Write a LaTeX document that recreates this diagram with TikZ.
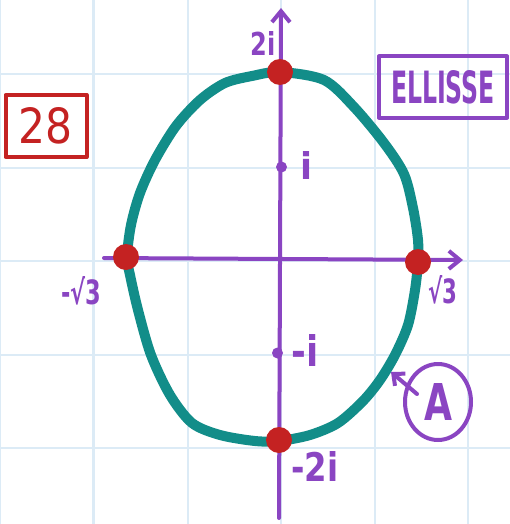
\documentclass[tikz,border=0pt]{standalone}
\usepackage{fontspec}
\setmainfont{DejaVu Sans}
\usepackage{graphicx}
\usetikzlibrary{arrows.meta,shapes.geometric}
\definecolor{gridc}{HTML}{DCEBF6}
\definecolor{axc}{HTML}{8A45C2}
\definecolor{tealc}{HTML}{128D89}
\definecolor{redc}{HTML}{C42222}
\tikzset{
  gridline/.style={draw=gridc,line width=2.5pt},
  axisline/.style={draw=axc,line width=4pt,line cap=round,line join=round,
    -{Straight Barb[length=11pt,width=18pt,line width=4pt]}},
  curve/.style={draw=tealc,line width=10pt,line join=round},
  bigdot/.style={circle,fill=redc,minimum size=26pt,inner sep=0pt},
  smalldot/.style={circle,fill=axc,minimum size=11pt,inner sep=0pt},
  lbl/.style={text=axc,inner sep=0pt,font=\bfseries},
  framebox/.style={draw,line width=4pt,line join=round,inner sep=0pt},
}
\begin{document}
\begin{tikzpicture}[x=1pt,y=-1pt]
\useasboundingbox[fill=white] (0,0) rectangle (510,524);
% grid
\foreach \x in {0,93.5,188,281,375,468}
  \draw[gridline] (\x,0) -- (\x,524);
\foreach \y in {74,168,261,355,448}
  \draw[gridline] (0,\y) -- (510,\y);
% axes
\coordinate (ybot) at (279,518);
\coordinate (ytop) at (281,8);
\coordinate (xleft) at (104,258);
\coordinate (xright) at (463,260);
\draw[axisline] (ybot) -- (ytop);
\draw[axisline] (xleft) -- (xright);
% ellipse
\draw[curve] plot[smooth cycle,tension=0.5] coordinates {
 (280,72) (324,80) (354,107) (384,143) (404,174) (413,208) (418,240)
 (418,262) (415,290) (408,325) (395,355) (380,380) (363,401) (338,423) (310,435)
 (279,441) (255,441) (220,435) (192,423) (170,395) (151,355) (138,310) (130,275)
 (127,257) (131,225) (140,193) (155,160) (176,126) (200,100) (225,83) (252,76)};
% dots
\node[smalldot] (pi) at (281.5,167) {};
\node[smalldot] (mi) at (277.5,353) {};
\node[bigdot] (top) at (280,72) {};
\node[bigdot] (left) at (126,257) {};
\node[bigdot] (right) at (418,262) {};
\node[bigdot] (bot) at (279,440) {};
% labels
\node[lbl] (l2i) at (263,44) {\resizebox{25pt}{24pt}{2i}};
\node[lbl] (li) at (306,165) {\resizebox{12pt}{28pt}{i}};
\node[lbl] (lms3) at (81,291) {\resizebox{40pt}{28pt}{-√3}};
\node[lbl] (ls3) at (443,290) {\resizebox{29pt}{28pt}{√3}};
\node[lbl] (lmi) at (305,350) {\resizebox{27pt}{32pt}{-i}};
\node[lbl] (lm2i) at (315,466) {\resizebox{47pt}{30pt}{-2i}};
% title boxes
\node[framebox,draw=axc,text=axc,minimum width=128pt,minimum height=61pt] (ell) at (443,87)
  {\resizebox{104pt}{33pt}{\bfseries ELLISSE}};
\node[framebox,draw=redc,text=redc,minimum width=81pt,minimum height=62pt] (num) at (46,126)
  {\resizebox{54pt}{36pt}{28}};
% A label
\node[ellipse,draw=axc,line width=4pt,text=axc,minimum width=66pt,minimum height=76pt,inner sep=0pt] (A) at (438,402)
  {\resizebox{28pt}{37pt}{\bfseries A}};
\coordinate (Atail) at (417,394);
\coordinate (Atip) at (391,372);
\draw[draw=axc,line width=4pt,line cap=round,line join=round,
  -{Straight Barb[length=9pt,width=16pt,line width=4pt]}] (Atail) -- (Atip);
\end{tikzpicture}
\end{document}
